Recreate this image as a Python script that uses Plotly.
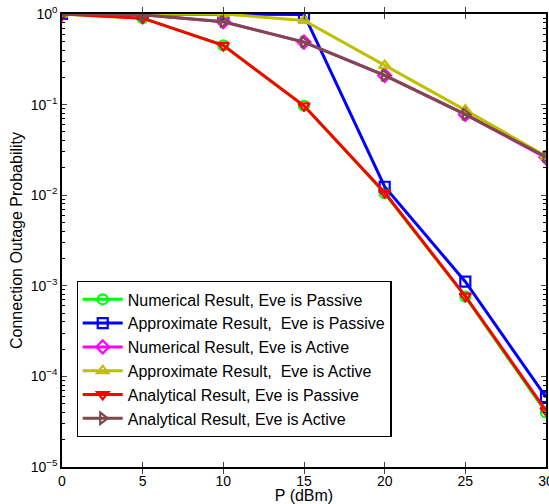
import plotly.graph_objects as go

# Transmit power (dBm)
power_dbm = [0, 5, 10, 15, 20, 25, 30]

# Connection outage probability for each method / eavesdropper mode
numerical_passive = [1.0, 0.90, 0.45, 0.097, 0.0105, 0.00076, 4.0e-5]
approx_passive = [1.0, 1.0, 1.0, 0.99, 0.0124, 0.00111, 5.9e-5]
numerical_active = [1.0, 0.98, 0.82, 0.49, 0.21, 0.078, 0.026]
approx_active = [1.0, 1.0, 1.0, 0.85, 0.27, 0.087, 0.027]
analytical_passive = [1.0, 0.90, 0.45, 0.097, 0.0107, 0.00077, 4.2e-5]
analytical_active = [1.0, 0.98, 0.82, 0.49, 0.21, 0.078, 0.0265]

series_names = [
    "Numerical Result, Eve is Passive",
    "Approximate Result,  Eve is Passive",
    "Numerical Result, Eve is Active",
    "Approximate Result,  Eve is Active",
    "Analytical Result, Eve is Passive",
    "Analytical Result, Eve is Active",
]
series_values = [numerical_passive, approx_passive, numerical_active,
                 approx_active, analytical_passive, analytical_active]
colors = ["#00ff00", "#0000ff", "#ff00ff", "#bfbf00", "#ff0000", "#7d4a4a"]
symbols = ["circle-open", "square-open", "diamond-open", "triangle-up-open",
           "triangle-down-open", "triangle-right-open"]

x_ticks = [0, 5, 10, 15, 20, 25, 30]
y_tick_vals = [1e-5, 1e-4, 1e-3, 1e-2, 1e-1, 1]
y_tick_text = ["10<sup>\u22125</sup>", "10<sup>\u22124</sup>", "10<sup>\u22123</sup>",
               "10<sup>\u22122</sup>", "10<sup>\u22121</sup>", "10<sup>0</sup>"]
y_minor_vals = [m * 10 ** e for e in range(-5, 0) for m in range(2, 10)]

FONT = "Liberation Sans, Arial, sans-serif"

fig = go.Figure()
for name, vals, col, sym in zip(series_names, series_values, colors, symbols):
    fig.add_trace(go.Scatter(
        x=power_dbm, y=vals, name=name, mode="lines+markers",
        line=dict(color=col, width=3),
        marker=dict(symbol=sym, size=10, color=col, line=dict(width=2.2, color=col)),
    ))

# Invisible trace that anchors the right-hand log axis (mirrored minor ticks)
fig.add_trace(go.Scatter(
    x=power_dbm, y=analytical_active, yaxis="y2", mode="lines",
    line=dict(color="rgba(0,0,0,0)"), showlegend=False, hoverinfo="skip",
))

fig.update_layout(
    width=549, height=504,
    margin=dict(l=62, r=3, t=14, b=37),
    paper_bgcolor="white", plot_bgcolor="white",
    font=dict(family=FONT, size=14, color="#000"),
    showlegend=True,
    legend=dict(
        x=0.03, y=0.238, xanchor="left", yanchor="middle",
        bgcolor="white", bordercolor="black", borderwidth=1.2,
        font=dict(family=FONT, size=16, color="#000"),
        tracegroupgap=0, itemwidth=40,
    ),
    xaxis=dict(
        range=[0, 30], tickvals=x_ticks, ticks="inside", ticklen=5,
        showline=True, linecolor="black", linewidth=1.5, mirror="allticks",
        showgrid=False, zeroline=False, tickfont=dict(size=14),
        ticklabeloverflow="allow", automargin=False,
        title=dict(text="P (dBm)", font=dict(size=16), standoff=2),
    ),
    yaxis=dict(
        type="log", range=[-5, 0], tickvals=y_tick_vals, ticktext=y_tick_text,
        ticks="inside", ticklen=5,
        showline=True, linecolor="black", linewidth=1.5, mirror=True,
        showgrid=False, zeroline=False, tickfont=dict(size=14),
        ticklabeloverflow="allow", automargin=False,
        minor=dict(tickvals=y_minor_vals, ticks="inside", ticklen=3,
                   tickcolor="black", showgrid=False),
        title=dict(text="Connection Outage Probability", font=dict(size=16), standoff=4),
    ),
    yaxis2=dict(
        type="log", range=[-5, 0], overlaying="y", side="right",
        tickvals=y_tick_vals, showticklabels=False, ticks="inside", ticklen=5,
        showline=False, showgrid=False, zeroline=False, automargin=False,
        minor=dict(tickvals=y_minor_vals, ticks="inside", ticklen=3,
                   tickcolor="black", showgrid=False),
    ),
)

fig.write_html("out.html")
